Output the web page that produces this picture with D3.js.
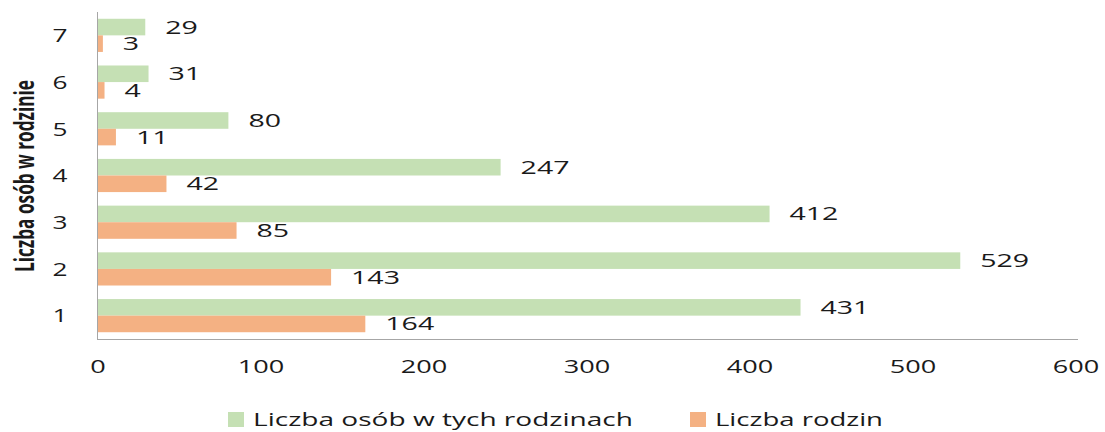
<!DOCTYPE html>
<html><head><meta charset="utf-8">
<script src="https://cdn.jsdelivr.net/npm/d3@7"></script>
<style>body{margin:0;background:#fff}svg{display:block}text{font-family:"Open Sans","Liberation Sans",Arial,sans-serif;fill:#1a1a1a}</style>
</head><body>
<script>
const categories = ["1","2","3","4","5","6","7"];
const persons = [431,529,412,247,80,31,29];
const families = [164,143,85,42,11,4,3];
const xTicks = [0,100,200,300,400,500,600];
const seriesNames = ["Liczba osób w tych rodzinach","Liczba rodzin"];
const colors = ["#c5e0b4","#f4b183"];
const yTitle = "Liczba osób w rodzinie";

const W=1105,H=432;
const svg=d3.select("body").append("svg").attr("width",W).attr("height",H);
const x=d3.scaleLinear().domain([0,600]).range([98,1076]);
const y=d3.scaleBand().domain(categories).range([339,12]).paddingInner(0.29).paddingOuter(0.145);
const sub=d3.scaleBand().domain([0,1]).range([0,y.bandwidth()]);

const series=[persons,families];
series.forEach((vals,si)=>{
  svg.append("g").selectAll("rect").data(categories).join("rect")
    .attr("x",x(0)).attr("y",c=>y(c)+sub(si))
    .attr("width",(c,i)=>x(vals[i])-x(0)).attr("height",sub.bandwidth())
    .attr("fill",colors[si]);
  svg.append("g").selectAll("text").data(categories).join("text")
    .attr("x",(c,i)=>x(vals[i])+20).attr("y",c=>y(c)+sub(si)+sub.bandwidth()/2)
    .attr("dy","0.36em").attr("font-size",18)
    .attr("textLength",(c,i)=>String(vals[i]).length*16.3).attr("lengthAdjust","spacingAndGlyphs")
    .text((c,i)=>vals[i]);
});

// axes lines
svg.append("line").attr("x1",97.5).attr("x2",97.5).attr("y1",12).attr("y2",339.5).attr("stroke","#a6a6a6");
svg.append("line").attr("x1",97).attr("x2",x(600)+2).attr("y1",339.5).attr("y2",339.5).attr("stroke","#a6a6a6");

// x tick labels
svg.append("g").selectAll("text").data(xTicks).join("text")
  .attr("x",d=>x(d)).attr("y",367).attr("dy","0.36em").attr("text-anchor","middle").attr("font-size",18)
  .attr("textLength",d=>String(d).length*15.5).attr("lengthAdjust","spacingAndGlyphs")
  .text(d=>d);

// y tick labels
svg.append("g").selectAll("text").data(categories).join("text")
  .attr("x",60).attr("y",c=>y(c)+y.bandwidth()/2).attr("dy","0.36em").attr("text-anchor","middle").attr("font-size",19)
  .attr("textLength",15).attr("lengthAdjust","spacingAndGlyphs")
  .text(c=>c);

// y title (condensed via horizontal scale)
const title=svg.append("text").attr("text-anchor","middle")
  .attr("font-family","Liberation Sans, Arial, sans-serif")
  .attr("font-size",26).attr("font-weight","bold").attr("dy","0.36em").text(yTitle);
const natural=title.node().getComputedTextLength();
title.attr("transform",`translate(25,176) rotate(-90) scale(${192/natural},1)`);

// legend
const leg=[{x:228,tw:380},{x:690,tw:168}];
seriesNames.forEach((n,i)=>{
  svg.append("rect").attr("x",leg[i].x).attr("y",412).attr("width",16).attr("height",15).attr("fill",colors[i]);
  svg.append("text").attr("x",leg[i].x+25).attr("y",419).attr("dy","0.36em").attr("font-size",19)
    .attr("textLength",leg[i].tw).attr("lengthAdjust","spacingAndGlyphs").text(n);
});
</script>
</body></html>
